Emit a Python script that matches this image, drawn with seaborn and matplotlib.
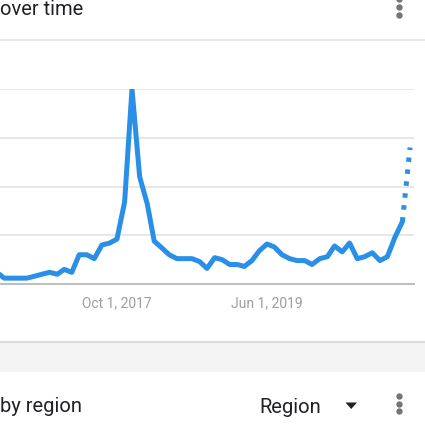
import matplotlib
matplotlib.use("Agg")
import matplotlib.pyplot as plt
import seaborn as sns
import pandas as pd

# monthly interest, Jun 2016 .. Jan 2021 (last month is partial -> dotted)
months = pd.date_range("2016-06-01", "2021-01-01", freq="MS")
interest = [
    6, 3, 3, 3, 3, 4, 5, 6, 5, 7.5, 6, 15, 15, 13, 20, 21,   # Jun16..Sep17
    23, 42, 100, 55, 41, 22, 18.5, 15, 13, 13, 13, 11.5, 8,   # Oct17..Oct18
    13.5, 12.5, 10, 10, 9, 12, 17, 20.5, 19, 15, 13, 12, 12,  # Nov18..Nov19
    10, 13, 14, 19.5, 16.5, 21, 13, 14, 16, 12, 14, 24, 32,   # Dec19..Dec20
    70,                                                       # Jan21 (partial)
]
tick_dates = ["2017-10-01", "2019-06-01"]
tick_labels = ["Oct 1, 2017", "Jun 1, 2019"]

df = pd.DataFrame({"month": months, "interest": interest})
solid = df.iloc[:-1]
partial = df.iloc[-2:]

sns.set_theme(style="white")
plt.rcParams["font.family"] = ["Roboto", "DejaVu Sans"]

W = H = 425
fig = plt.figure(figsize=(4.25, 4.25), dpi=100)

# page decorations live on a full-figure axes in pixel coords (y down)
deco = fig.add_axes([0, 0, 1, 1], zorder=0)
deco.set_xlim(0, W)
deco.set_ylim(H, 0)
deco.axis("off")

deco.text(0, 15, "over time", fontsize=14.5, color="#202124", va="baseline", ha="left")
deco.plot([0, W], [40, 40], color="#e8e8e8", linewidth=1.5)
deco.plot([399] * 3, [-1, 7, 15], "o", markersize=3.6, color="#757575", clip_on=False)

# grey gap between the two cards
deco.fill_between([0, W], 341, 372, color="#f4f4f4", linewidth=0)
deco.plot([0, W], [341.5, 341.5], color="#dcdcdc", linewidth=1.6)

deco.text(0, 412, "by region", fontsize=14.5, color="#202124", va="baseline", ha="left")
deco.text(259, 413, "Region", fontsize=14.5, color="#202124", va="baseline", ha="left")
deco.fill([345.5, 357, 351.2], [402.5, 402.5, 409], color="#202124", linewidth=0)
deco.plot([399] * 3, [396, 403.5, 411], "o", markersize=3.6, color="#757575")

blue = "#2a8fe6"
# plot area: x 0..414 px, y 89 (100) .. 284 (0)
ax = fig.add_axes([0, 1 - 284 / H, 414 / W, (284 - 89) / H], zorder=1)
ax.patch.set_alpha(0)
sns.lineplot(data=solid, x="month", y="interest", ax=ax, color=blue, linewidth=3.6)
# last (incomplete) month drawn dotted
ax.plot(partial["month"], partial["interest"], color=blue, linewidth=3.6,
        linestyle=(0, (0.9, 1.5)), dash_capstyle="butt")

ax.set_ylim(0, 100)
ax.set_xlim(pd.Timestamp("2016-06-14"), pd.Timestamp("2021-01-17"))
ax.set_yticks([25, 50, 75, 100])
ax.yaxis.grid(True, color="#e0e0e0", linewidth=1.1)
ax.set_yticklabels([])
ax.tick_params(left=False, bottom=False, labelsize=10, labelcolor="#9e9e9e", pad=3)
ax.set_xticks(pd.to_datetime(tick_dates))
ax.set_xticklabels(tick_labels)
ax.set_xlabel("")
ax.set_ylabel("")
for s in ["top", "left", "right"]:
    ax.spines[s].set_visible(False)
ax.spines["bottom"].set_color("#bdbdbd")
ax.spines["bottom"].set_linewidth(1.4)
ax.set_axisbelow(True)

fig.savefig("out.png", dpi=100, facecolor="white")
